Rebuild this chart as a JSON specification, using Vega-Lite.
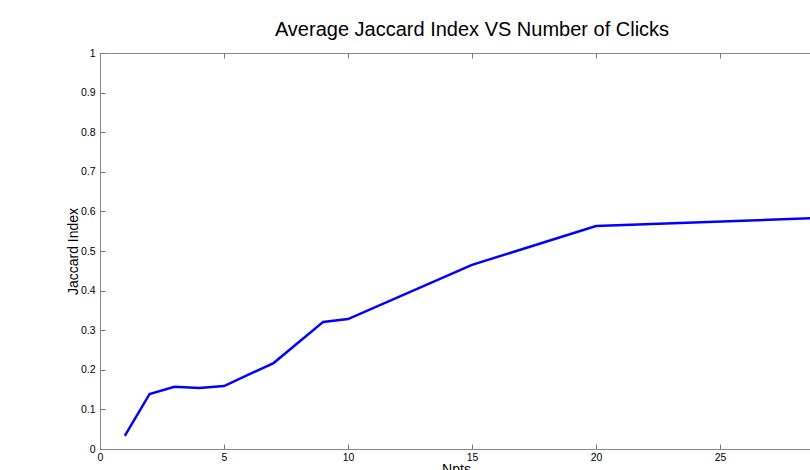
{
  "$schema": "https://vega.github.io/schema/vega-lite/v6.json",
  "width": 712,
  "height": 396,
  "autosize": "none",
  "padding": {"left": 100, "top": 53, "right": 0, "bottom": 21},
  "background": "white",
  "title": {"text": "Average Jaccard Index VS Number of Clicks", "fontSize": 20, "font": "Liberation Sans", "fontWeight": "normal", "color": "black", "dx": 16, "offset": 8},
  "config": {
    "view": {"stroke": "#888888", "strokeWidth": 1},
    "axis": {"labelFont": "Liberation Sans", "labelFontSize": 10.5, "labelColor": "black", "titleFont": "Liberation Sans", "titleFontSize": 14, "titleFontWeight": "normal", "titleColor": "black", "domainColor": "#888888", "ticks": false, "grid": true, "gridColor": "#777777", "gridOpacity": 1, "labelOverlap": false, "labelBound": false}
  },
  "data": {"values": [
    {"npts": 1, "jaccard": 0.033},
    {"npts": 2, "jaccard": 0.139},
    {"npts": 3, "jaccard": 0.157},
    {"npts": 4, "jaccard": 0.154},
    {"npts": 5, "jaccard": 0.159},
    {"npts": 7, "jaccard": 0.217},
    {"npts": 9, "jaccard": 0.321},
    {"npts": 10, "jaccard": 0.328},
    {"npts": 15, "jaccard": 0.465},
    {"npts": 20, "jaccard": 0.563},
    {"npts": 30, "jaccard": 0.586}
  ]},
  "mark": {"type": "line", "color": "#0000ff", "strokeWidth": 2.5, "clip": true},
  "encoding": {
    "x": {"field": "npts", "type": "quantitative", "title": "Npts", "scale": {"domain": [0, 28.71], "nice": false, "zero": true},
          "axis": {"values": [0, 5, 10, 15, 20, 25], "labelPadding": 3, "titlePadding": 0, "labelFlush": false, "gridDash": [5, 386, 5, 1000]}},
    "y": {"field": "jaccard", "type": "quantitative", "title": "Jaccard Index", "scale": {"domain": [0, 1], "nice": false},
          "axis": {"values": [0, 0.1, 0.2, 0.3, 0.4, 0.5, 0.6, 0.7, 0.8, 0.9, 1], "format": ".1~f", "labelPadding": 5, "titlePadding": 0, "labelFlush": false, "gridDash": [5, 2000]}}
  }
}
